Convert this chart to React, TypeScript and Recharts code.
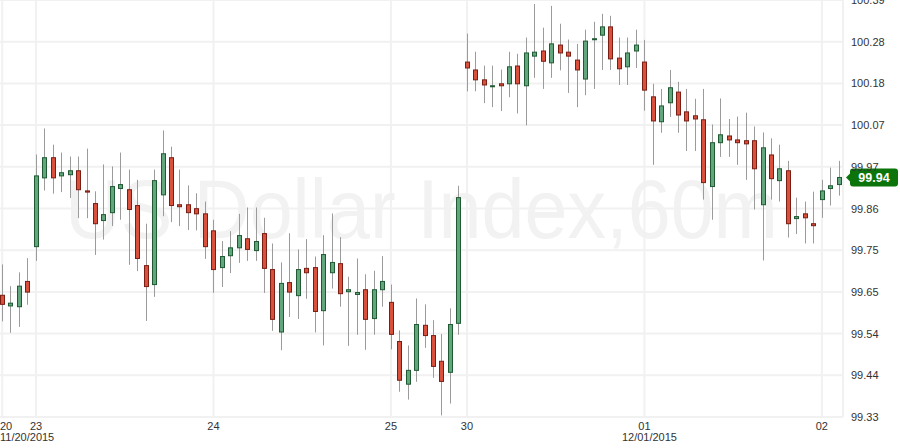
import React from 'react';
import { Bar, CartesianGrid, ComposedChart, ReferenceLine, XAxis, YAxis } from 'recharts';

// hourly candles, USD index, 11/20/2015 .. 12/02/2015
const open = [
  99.638, 99.611, 99.609, 99.673, 99.761, 99.935, 99.986, 99.94, 99.943, 99.953,
  99.902, 99.87, 99.827, 99.847, 99.908, 99.905, 99.865, 99.713, 99.665, 99.892,
  99.986, 99.867, 99.867, 99.857, 99.844, 99.801, 99.708, 99.738, 99.758, 99.781,
  99.751, 99.794, 99.703, 99.545, 99.67, 99.637, 99.706, 99.708, 99.599, 99.695,
  99.718, 99.647, 99.64, 99.652, 99.579, 99.652, 99.62, 99.521, 99.413, 99.448,
  99.562, 99.536, 99.471, 99.443, 99.567, 100.228, 100.208, 100.183, 100.168, 100.173,
  100.173, 100.218, 100.168, 100.243, 100.256, 100.226, 100.271, 100.253, 100.233, 100.185,
  100.286, 100.296, 100.317, 100.238, 100.216, 100.256, 100.228, 100.14, 100.077, 100.125,
  100.152, 100.102, 100.092, 100.082, 99.913, 100.024, 100.041, 100.031, 100.029, 100.029,
  99.867, 99.993, 99.928, 99.953, 99.832, 99.844, 99.819, 99.88, 99.908, 99.918,
];
const high = [
  99.716, 99.661, 99.696, 99.732, 99.994, 100.06, 100.019, 99.999, 99.989, 99.989,
  100.009, 99.901, 99.969, 99.964, 99.999, 99.956, 99.93, 99.819, 99.956, 100.055,
  100.014, 99.956, 99.916, 99.896, 99.875, 99.829, 99.775, 99.8, 99.844, 99.86,
  99.86, 99.834, 99.769, 99.721, 99.795, 99.754, 99.78, 99.736, 99.79, 99.845,
  99.785, 99.685, 99.731, 99.691, 99.7, 99.737, 99.665, 99.549, 99.511, 99.63,
  99.615, 99.575, 99.54, 99.605, 99.915, 100.3, 100.254, 100.219, 100.219, 100.209,
  100.254, 100.249, 100.29, 100.375, 100.315, 100.37, 100.325, 100.285, 100.274, 100.31,
  100.33, 100.35, 100.345, 100.29, 100.29, 100.31, 100.284, 100.173, 100.16, 100.208,
  100.178, 100.16, 100.135, 100.16, 100.07, 100.136, 100.084, 100.09, 100.1, 100.065,
  100.05, 100.035, 100.019, 99.978, 99.885, 99.875, 99.9, 99.93, 99.961, 99.978,
];
const low = [
  99.572, 99.543, 99.558, 99.614, 99.725, 99.903, 99.895, 99.899, 99.884, 99.833,
  99.833, 99.74, 99.779, 99.813, 99.829, 99.715, 99.699, 99.573, 99.634, 99.838,
  99.823, 99.813, 99.803, 99.802, 99.73, 99.644, 99.659, 99.694, 99.72, 99.725,
  99.725, 99.644, 99.548, 99.499, 99.583, 99.578, 99.629, 99.544, 99.511, 99.655,
  99.609, 99.51, 99.538, 99.5, 99.538, 99.609, 99.501, 99.394, 99.374, 99.419,
  99.505, 99.429, 99.334, 99.364, 99.538, 100.154, 100.154, 100.124, 100.114, 100.104,
  100.139, 100.098, 100.068, 100.188, 100.16, 100.188, 100.207, 100.15, 100.114, 100.144,
  100.16, 100.208, 100.208, 100.17, 100.17, 100.213, 100.105, 99.968, 100.049, 100.089,
  100.049, 100.003, 100.003, 99.88, 99.829, 99.988, 99.988, 99.968, 99.93, 99.855,
  99.726, 99.88, 99.875, 99.784, 99.793, 99.769, 99.769, 99.834, 99.865, 99.89,
];
const close = [
  99.615, 99.618, 99.661, 99.646, 99.94, 99.986, 99.935, 99.948, 99.953, 99.905,
  99.899, 99.819, 99.842, 99.913, 99.918, 99.855, 99.731, 99.66, 99.928, 99.996,
  99.865, 99.862, 99.847, 99.844, 99.761, 99.703, 99.736, 99.758, 99.789, 99.754,
  99.774, 99.706, 99.577, 99.668, 99.646, 99.703, 99.695, 99.597, 99.741, 99.721,
  99.642, 99.652, 99.645, 99.577, 99.652, 99.673, 99.539, 99.423, 99.448, 99.564,
  99.536, 99.458, 99.42, 99.564, 99.885, 100.213, 100.183, 100.17, 100.168, 100.168,
  100.216, 100.173, 100.251, 100.253, 100.23, 100.274, 100.251, 100.243, 100.208, 100.281,
  100.287, 100.317, 100.236, 100.211, 100.251, 100.271, 100.157, 100.079, 100.117, 100.163,
  100.094, 100.079, 100.084, 99.923, 100.024, 100.044, 100.031, 100.024, 100.021, 99.958,
  100.011, 99.933, 99.958, 99.819, 99.837, 99.834, 99.814, 99.902, 99.915, 99.936,
];

const dayTicks = [0, 4, 25, 46, 55, 76, 97];
const dayLabels = ['20', '23', '24', '25', '30', '01', '02'];
const dateLabels = ['11/20/2015', '', '', '', '', '12/01/2015', ''];

const priceTicks = [99.33, 99.4355, 99.541, 99.6465, 99.752, 99.8575, 99.963, 100.0685, 100.174, 100.2795, 100.385];
const priceLabels = ['99.33', '99.44', '99.54', '99.65', '99.75', '99.86', '99.97', '100.07', '100.18', '100.28', '100.39'];
const lastLabel = '99.94';

const rows = open.map((o, i) => ({ i, o, h: high[i], l: low[i], c: close[i], range: [low[i], high[i]] }));

const FONT = '"Liberation Sans", Arial, sans-serif';

function Candle(props: any) {
  const { x, y, height, payload } = props;
  if (payload == null) return null;
  const top = Math.min(y, y + height);
  const h = Math.abs(height);
  const k = h / (payload.h - payload.l || 1);
  const yOf = (v: number) => top + (payload.h - v) * k;
  const up = payload.c >= payload.o;
  const bTop = yOf(Math.max(payload.o, payload.c));
  const bBot = yOf(Math.min(payload.o, payload.c));
  const bx = Math.round(x) + 0.5;
  return (
    <g>
      <line x1={bx + 2} x2={bx + 2} y1={top} y2={top + h} stroke="#9b9b9b" strokeWidth={1} />
      <rect
        x={bx}
        y={bTop}
        width={4}
        height={Math.max(bBot - bTop, 1)}
        fill={up ? '#62a67d' : '#d9503c'}
        stroke={up ? '#1f5a33' : '#7a1e14'}
        strokeWidth={1}
      />
    </g>
  );
}

function DayTick(props: any) {
  const { x, y, payload } = props;
  const k = dayTicks.indexOf(payload.value);
  if (k < 0) return null;
  const first = k === 0;
  const tx = first ? 2 : x;
  const anchor = first ? 'start' : 'middle';
  return (
    <g fontFamily={FONT} fontSize={11} fill="#333">
      <text x={tx} y={y + 13} textAnchor={anchor}>{dayLabels[k]}</text>
      {dateLabels[k] && (
        <text x={first ? 2 : x + 5} y={y + 24} textAnchor={anchor}>{dateLabels[k]}</text>
      )}
    </g>
  );
}

function PriceTick(props: any) {
  const { x, y, payload } = props;
  const k = priceTicks.indexOf(payload.value);
  // the top tick sits on the upper edge and is cut off there
  const shift = k === priceTicks.length - 1 ? -9 : 0;
  return (
    <text x={x} y={y + 4 + shift} fontFamily={FONT} fontSize={11} fill="#333" textAnchor="start">
      {k >= 0 ? priceLabels[k] : ''}
    </text>
  );
}

function PriceTag(props: any) {
  const vb = props.viewBox;
  if (!vb) return null;
  const x0 = vb.x + vb.width + 3;
  const yc = vb.y;
  return (
    <g>
      <path
        d={`M${x0} ${yc} L${x0 + 4} ${yc - 4} L${x0 + 4} ${yc - 6} Q${x0 + 4} ${yc - 9} ${x0 + 7} ${yc - 9} L${x0 + 49} ${yc - 9} Q${x0 + 52} ${yc - 9} ${x0 + 52} ${yc - 6} L${x0 + 52} ${yc + 6} Q${x0 + 52} ${yc + 9} ${x0 + 49} ${yc + 9} L${x0 + 7} ${yc + 9} Q${x0 + 4} ${yc + 9} ${x0 + 4} ${yc + 6} L${x0 + 4} ${yc + 4} Z`}
        fill="#0b740b"
      />
      <text x={x0 + 28} y={yc + 4.5} textAnchor="middle" fontFamily={FONT} fontSize={12.5} fontWeight="bold" fill="#fff">
        {lastLabel}
      </text>
    </g>
  );
}

export default function App() {
  return (
    <div style={{ position: 'absolute', left: 0, top: 0, width: 900, height: 448, background: '#fff', overflow: 'hidden' }}>
      <svg width={900} height={448} style={{ position: 'absolute', left: 0, top: 0 }}>
        <text
          x={421.5}
          y={238}
          textAnchor="middle"
          fontFamily={FONT}
          fontSize={84}
          textLength={713}
          lengthAdjust="spacingAndGlyphs"
          fill="#f2f2f2"
        >
          US Dollar Index,60m
        </text>
      </svg>
      <div style={{ position: 'absolute', left: -2, top: 0 }}>
        <ComposedChart width={902} height={448} data={rows} margin={{ top: 0, right: 0, bottom: 0, left: 0 }}>
          <CartesianGrid stroke="#f1f1f1" strokeWidth={2} />
          <XAxis
            dataKey="i"
            type="category"
            ticks={dayTicks}
            interval={0}
            height={31}
            axisLine={false}
            tickLine={false}
            tickSize={0}
            tickMargin={0}
            tick={<DayTick />}
          />
          <YAxis
            orientation="right"
            width={57}
            type="number"
            domain={[99.33, 100.385]}
            ticks={priceTicks}
            allowDataOverflow
            axisLine={false}
            tickLine={false}
            tickSize={0}
            tickMargin={8}
            tick={<PriceTick />}
          />
          <Bar dataKey="range" barSize={5} shape={<Candle />} isAnimationActive={false} />
          <ReferenceLine y={close[close.length - 1]} stroke="none" ifOverflow="visible" label={<PriceTag />} />
        </ComposedChart>
      </div>
    </div>
  );
}
